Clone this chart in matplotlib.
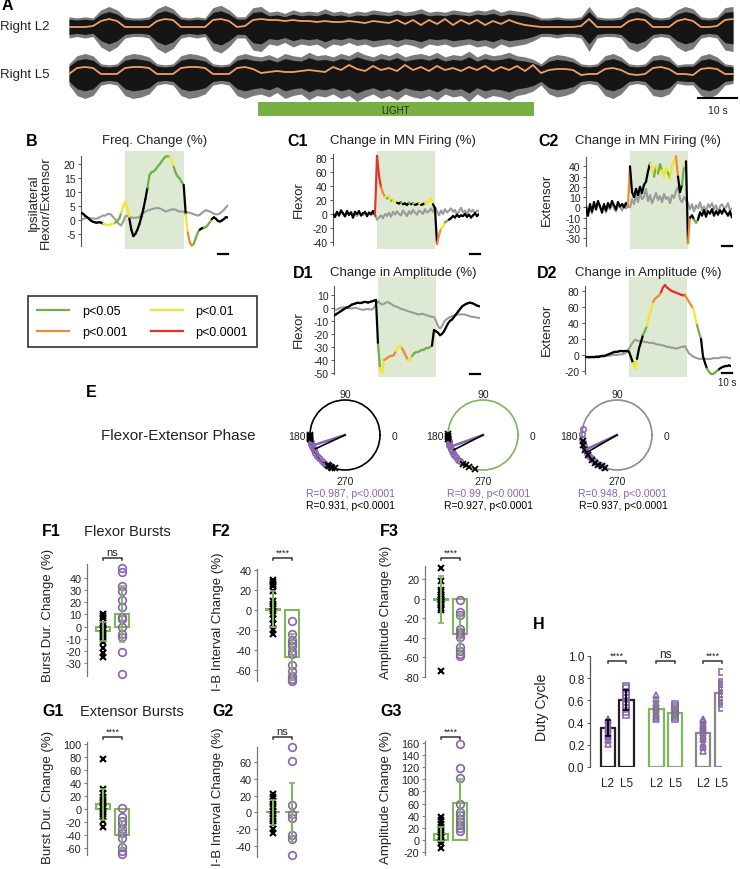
import numpy as np
import matplotlib
matplotlib.use('Agg')
import matplotlib.pyplot as plt
from matplotlib.collections import LineCollection
from matplotlib.lines import Line2D
from matplotlib.patches import Rectangle

plt.rcParams['font.family'] = ['Liberation Sans', 'DejaVu Sans']
plt.rcParams['axes.unicode_minus'] = False

# ---------------- data ----------------
# A: raw neurogram amplitude (2 s bins) and rectified envelope (orange)
a_time = np.arange(0, 168, 2)
l2_amp = [8, 7, 8, 7, 14, 17, 14, 8, 7, 7, 8, 15, 18, 15, 8, 7, 8, 7, 16, 18, 14, 8, 8, 16, 17,
          12, 13, 11, 14, 12, 13, 12, 15, 12, 13, 11, 13, 12, 14, 13, 12, 14, 12, 13, 15, 12, 13,
          12, 14, 13, 12, 14, 13, 15, 12, 14, 13, 12,
          10, 7, 7, 8, 7, 7, 8, 17, 8, 7, 7, 8, 15, 17, 14, 8, 7, 8, 14, 17, 15, 8, 7, 8, 16, 17]
l2_env = [-1, -1, -1, 0, 5, 7, 5, -1, -1, -1, -1, 5, 7, 6, -1, -1, -1, -1, 6, 7, 5, -1, 0, 6, 7,
          6, 6, 5, 6, 5, 5, 4, 5, 4, 4, 5, 4, 3, 5, 4, 3,
          6, 2, 6, 1, 6, 2, 7, 1, 6, 2, 6, 1, 5, 2, 6, 3, 1,
          0, -1, -1, -1, -1, -1, 0, 7, -1, -1, -1, -1, 5, 7, 6, -1, -1, -1, 5, 7, 5, -1, -1, 0, 6, 7]
l5_amp = [8, 15, 17, 15, 8, 7, 8, 15, 17, 16, 14, 8, 7, 8, 15, 17, 16, 14, 8, 7, 8, 15, 17, 15,
          14, 16, 13, 17, 15, 14, 18, 15, 16, 14, 17, 15, 19, 16, 14, 17, 15, 18, 14, 16, 17, 15,
          18, 14, 16, 15, 19, 14, 17, 15, 16, 18, 15, 14, 12,
          8, 14, 16, 15, 13, 8, 7, 8, 15, 17, 14, 8, 7, 8, 15, 16, 14, 7, 8, 8, 15, 17, 14, 8, 7]
l5_env = [-1, 5, 6, 5, -1, -1, -1, 5, 6, 6, 5, -1, -1, -1, 5, 6, 6, 5, -1, -1, -1, 5, 6, 4,
          0, 1, 2, 1, 1, 2, 3, 2, 1, 6, 3, 8, 4, 2, 7, 3, 5, 2, 8, 3, 6, 2, 7, 3, 5, 2, 6, 3, 7,
          2, 6, 3, 7, 2, 8,
          0, 3, 4, 4, 3, -2, -1, -1, 4, 5, 3, -1, -2, -1, 5, 6, 4, -1, -1, -2, 4, 5, 4, -1, -1]

# B-D: change (%) sampled every 2 s; codes 0=ns 1=p<0.05 2=p<0.01 3=p<0.001 4=p<0.0001
bd_time = np.arange(0, 148, 2)
light_on, light_off = 44, 102

b_black = [2.5, 2.2, 1.5, 1.0, 0.3, -0.3, -0.7, -0.9, -1.0, -0.8,
           -1.0, -1.4, -1.6, -1.7, -1.7, -1.6, -1.4, -1.0, -0.5, 0.5,
           2.5, 5.0, 6.5, 4.5, 0.5, -3.5, -5.8, -5.0, -3.5, -1.5,
           1.0, 4.0, 7.5, 11.5, 16.0, 17.0, 17.3, 18.0, 19.0, 19.8,
           20.8, 21.8, 22.6, 22.8, 22.4, 21.0, 19.0, 16.8, 15.5, 14.8,
           13.5, 12.5, 2.0, -4.5, -8.0, -9.2, -8.6, -6.5, -4.5, -3.5,
           -3.0, -2.8, -2.6, -1.8, -0.8, 0.3, 0.9, 0.4, -0.4, -0.6,
           -0.2, 0.3, 1.0, 0.8]
b_codes = [0] * 11 + [2] * 6 + [1] * 3 + [2] * 4 + [0] * 9 + [1] * 11 + [2] * 2 + [1] * 5 + \
          [0, 2] + [3] * 3 + [1] * 3 + [0] * 2 + [1] * 4 + [0] * 9
b_gray = [0.0, 0.3, 0.6, 0.8, 0.7, 0.6, 0.5, 0.4, 0.5, 0.8,
          1.2, 1.6, 1.5, 2.0, 2.2, 1.8, 1.0, 0.2, -0.8, -1.6,
          -2.0, -0.5, 1.3, 1.5, 1.0, 0.8, 0.7, 0.8, 0.9, 0.8,
          2.0, 2.5, 3.0, 3.3, 3.6, 3.8, 4.0, 4.2, 4.3, 4.1,
          3.8, 3.4, 3.0, 3.2, 3.5, 3.7, 3.8, 3.6, 3.2, 3.0,
          3.0, 2.9, 2.8, 2.7, 2.5, 2.3, 2.0, 1.8, 1.5, 1.8,
          2.5, 3.0, 3.5, 3.2, 3.0, 2.6, 2.2, 2.0, 2.0, 2.3,
          3.0, 3.6, 4.5, 5.2]

c1_black = [0, -4, 3, -2, 5, 1, -3, 4, -1, 2, -5, 3, 0, 4, -2, 1, 3, -3, 2, 0, 4, -2,
            83, 55, 38, 30, 24, 22, 25, 19, 20, 18, 16, 15, 17, 14, 15, 13, 16, 14, 15, 13,
            14, 15, 13, 14, 16, 15, 20, 23, 14, 8, -43, -30, -21, -18, -12, -10, -8,
            -6, -3, -5, -1, -4, -2, -3, 0, -4, -1, -5, -2, 1, -3, 0]
c1_codes = [0] * 21 + [4] + [4, 4, 3, 3, 2, 1, 2, 1, 2, 2, 0, 0, 1, 0, 0, 0, 1, 0, 1, 0, 0, 2, 0, 0,
                             2, 2, 2, 2, 0, 0, 3, 3, 2, 2, 1, 1, 0] + [0] * 15
c1_gray = [2, -3, 1, -2, 3, 0, -4, 2, -1, 3, -2, 1, -3, 2, 0, -2, 3, -1, 1, -2, 2, 0,
           -8, -5, -2, -6, 0, -3, 2, -4, 3, -1, 4, 0, -2, 5, 1, -3, 4, 0, 6, 2, -1, 5, 3, 0,
           7, 2, 4, 8, 3, 10, 4, -2, 5, 0, 7, 2, 5,
           8, 3, 6, -1, 4, 9, 2, 5, 0, 7, 3, 6, 1, 5, 4]

c2_black = [0, -8, 3, -4, 5, -2, 6, 1, -5, 3, -3, 4, 0, 6, 2, -2, 5, 1, 3, 0, 4, 2,
            40, 15, 10, 18, 12, 20, 14, 22, 25, 35, 43, 38, 30, 40, 33, 42, 36, 30, 38, 34,
            28, 40, 45, 50, 30, 15, 22, 40, 45,
            -35, -10, -8, -12, -15, -12, -5, -8, -3, -9, -4, -6, -2, -8, -4, -7, -3, -6, -2,
            -5, -8, -4, -10]
c2_codes = [0] * 21 + [3] + [0] * 10 + [2, 2, 1, 2, 1, 1, 2, 2, 2, 1, 2, 2, 2, 3, 0, 0, 1, 2, 0] + \
           [3, 0, 0, 1, 1] + [0] * 18
c2_gray = [2, -4, 0, -6, 3, -1, 5, 0, -3, 2, -5, 1, -2, 4, -1, -4, 2, 0, -3, 3, -1, 1,
           0, 8, 3, 12, 5, 15, 8, 10, 18, 6, 12, 4, 9, 14, 7, 11, 5, 13, 8, 10, 4, 12, 9, 16,
           20, 8, 5, 10, 7,
           4, -2, 3, -4, 2, -1, 5, -3, 1, -5, 3, 0, 4, -2, 2, -6, 1, 3, -1, 0, 4, -3, -1]

d1_black = [-6, -5, -4, -3, -2, -1, 0, 0.5, 1.5, 2.5,
            3, 3.5, 4, 4, 4, 4.5, 4.5, 4, 4.5, 5,
            5.5, 6, -28, -46, -50, -40, -39, -38, -37, -37,
            -36, -33, -30, -29, -31, -34, -37, -40, -40, -37,
            -35, -34, -34, -33, -32, -32, -31, -31, -30, -29,
            -17, -18, -19, -21, -20, -18, -15, -12, -10, -9,
            -7, -5, -3, -1, 1, 2, 3, 3.5, 4, 3.5,
            3, 2, 1.5, 1]
d1_codes = [0] * 22 + [1, 2, 2, 3, 3, 3, 3, 3, 3, 2, 2, 2, 3, 3, 3, 2, 2, 1, 1, 1, 1, 1, 1, 1,
                       1, 1, 1, 0] + [0] * 24
d1_gray = [-1, -1.5, -1, 0, 0, 0.5, 0, 0, -0.5, -0.5,
           0, 0, -0.5, -1, -1.5, -1.5, -1, -1, -1.2, -1.3,
           0, 3, 5, 3.5, 2.5, 3, 4, 4.5, 3.5, 2.5,
           1.5, 1, 0.5, -0.5, -1, -1.5, -2, -2.5, -3, -3.5,
           -4, -4.5, -5, -5, -4.5, -5, -5.5, -6, -6.5, -7,
           -7, -10, -14, -16, -14, -11, -9, -8, -7, -6.5,
           -6, -5.5, -5, -5, -5, -5, -5.5, -6, -6.5, -7,
           -7, -7.5, -7.5, -8]

d2_black = [-3, -3, -3, -2.5, -2.5, -2.5, -2, -2, -1.5, -1,
            -1, 0, 1, 2, 3, 4, 4, 4.5, 5, 4.5,
            5, 5, 4, -3, -10, -17, -5, 8, 16, 25,
            30, 36, 49, 55, 66, 70, 72, 74, 78, 84,
            87, 84, 82, 80, 79, 78, 77, 76, 75, 74,
            74, 70, 66, 62, 58, 48, 37, 28, 20, -2,
            -10, -17, -21, -24, -24, -22, -20, -18, -16, -15,
            -14, -14, -13, -14]
d2_codes = [0] * 23 + [0, 2, 2, 0, 0, 0, 1, 1, 2, 2, 2, 3, 3, 3, 3, 4] + [4] * 11 + \
           [3, 3, 3, 3, 2, 2, 1, 1] + [0] * 3 + [1] * 6 + [0] * 7
d2_gray = [-3, -3, -3, -3, -3, -3, -2.5, -2, -2, -2,
           -1.5, -1, -1, -0.5, 0, 0, 0, 0.5, 0.5, 1,
           2, 4, 8, 12, 16, 19, 18, 17, 17, 17,
           16, 16, 15, 15, 15, 14, 13, 13, 12, 12,
           11, 10, 10, 9, 9, 8, 8, 9, 10, 10,
           11, 6, 2, 0, -2, -3, -4, -5, -5, -5,
           -5, -5, -5, -5, -4, -4, -4, -4, -3, -3,
           -3, -3, -4, -4]

# E: flexor-extensor phase (deg), mean vector angle/length
e_ctrl = [[180, 181, 183, 185, 187, 240, 243, 246, 249, 253],
          [179, 181, 183, 186, 236, 240, 246, 256],
          [190, 196, 205, 215, 225, 232, 238, 244, 250]]
e_light = [[186, 189, 192, 195, 198, 202, 206, 211, 216, 222, 228, 233, 238],
           [184, 187, 190, 193, 196, 199, 203, 207, 211, 215, 220, 225, 229],
           [170, 178, 186, 192, 198, 204, 210, 216, 222, 228, 234, 240, 246]]
e_vec_light = [(198, 0.987), (200, 0.99), (205, 0.948)]
e_vec_ctrl = [(205, 0.931), (207, 0.927), (210, 0.937)]
e_text_light = ['R=0.987, p<0.0001', 'R=0.99, p<0.0001', 'R=0.948, p<0.0001']
e_text_ctrl = ['R=0.931, p<0.0001', 'R=0.927, p<0.0001', 'R=0.937, p<0.0001']
e_ring = ['black', '#7cb55a', '#8c8c8c']

# F/G: per-animal change (%), control (x) vs light (o), bar = mean, whisker = SD
f1_ctrl = [10, 9, 7, 3, 1, -1, -3, -5, -8, -10, -13, -18, -22, -25]
f1_light = [48, 45, 33, 29, 22, 16, 8, 6, 0, -6, -9, -21, -39]
f2_ctrl = [30, 28, 26, 24, 19, 9, 6, 3, -1, -4, -9, -14, -20, -24]
f2_light = [-11, -24, -30, -33, -36, -41, -44, -55, -61, -66, -69, -71]
f3_ctrl = [31, 18, 9, 7, 4, 2, 0, -1, -3, -5, -7, -10, -12, -74]
f3_light = [-1, -14, -17, -31, -34, -36, -39, -49, -53, -57, -59]
g1_ctrl = [77, 31, 25, 19, 14, 9, 5, 1, -3, -8, -13, -18, -27]
g1_light = [2, -13, -18, -23, -31, -37, -44, -59, -64, -69]
g2_ctrl = [22, 18, 14, 10, 6, 2, -2, -6, -10, -14, -20, -24]
g2_light = [78, 61, 9, -2, -6, -27, -32, -51]
g3_ctrl = [38, 33, 27, 22, 16, 11, 5, 0, -5, -13]
g3_light = [158, 119, 102, 60, 46, 41, 35, 30, 25, 19, 14]
fg_means = {'F1': (-4, 10), 'F2': (1, -47), 'F3': (-1, -36),
            'G1': (7, -40), 'G2': (0, 0), 'G3': (10, 61)}
fg_sds = {'F1': (8, 23), 'F2': (18, 23), 'F3': (24, 20),
          'G1': (24, 22), 'G2': (15, 35), 'G3': (12, 40)}
fg_sig = {'F1': 'ns', 'F2': '****', 'F3': '****', 'G1': '****', 'G2': 'ns', 'G3': '****'}

# H: duty cycle
h_labels = ['L2', 'L5', 'L2', 'L5', 'L2', 'L5']
h_means = [0.35, 0.60, 0.52, 0.49, 0.31, 0.67]
h_sds = [0.07, 0.09, 0.06, 0.05, 0.08, 0.10]
h_points = [[0.43, 0.41, 0.39, 0.37, 0.35, 0.33, 0.31, 0.29, 0.27, 0.24, 0.21],
            [0.73, 0.71, 0.68, 0.65, 0.62, 0.59, 0.56, 0.53, 0.50, 0.47],
            [0.65, 0.61, 0.58, 0.55, 0.53, 0.51, 0.49, 0.47, 0.45, 0.43],
            [0.57, 0.55, 0.53, 0.51, 0.49, 0.47, 0.45, 0.43],
            [0.43, 0.41, 0.39, 0.37, 0.35, 0.33, 0.31, 0.28, 0.25, 0.21, 0.18, 0.14],
            [0.86, 0.77, 0.75, 0.72, 0.69, 0.66, 0.63, 0.60, 0.57, 0.53]]
h_sig = ['****', 'ns', '****']

# ---------------- style ----------------
GREEN = '#6db248'
YELLOW = '#f3e62b'
ORANGE = '#f08a35'
RED = '#e2332b'
SIG_COLORS = ['black', GREEN, YELLOW, ORANGE, RED]
GRAY = '#9b9b9b'
PURPLE = '#8a62b2'
SHADE = '#dde9d2'
BOXGREEN = '#7fb75c'
TXT = '#222222'

fig = plt.figure(figsize=(7.4, 8.7), dpi=100)


def rect(x0, y0, x1, y1):
    return [x0 / 740, 1 - y1 / 870, (x1 - x0) / 740, (y1 - y0) / 870]


def put(x, y, s, size=9, **kw):
    kw.setdefault('color', TXT)
    fig.text(x / 740, 1 - y / 870, s, fontsize=size, **kw)


def letter(x, y, s):
    put(x, y, s, 11.5, weight='bold', ha='left', va='center', color='black')


# ---------------- A ----------------
axA = fig.add_axes(rect(69, 0, 738, 125))
axA.set_xlim(0, 167.25)
axA.set_ylim(125, 0)
axA.axis('off')
for mid, amp, env in ((27, l2_amp, l2_env), (74, l5_amp, l5_env)):
    amp = np.asarray(amp, float)
    axA.fill_between(a_time, mid - 1.15 * amp, mid + 1.5 * amp, color='#7a7a7a', lw=0)
    axA.fill_between(a_time, mid - 0.85 * amp, mid + 1.05 * amp, color='#151515', lw=0)
    axA.plot(a_time, mid - np.asarray(env), color='#f2a062', lw=1.3)
axA.add_patch(Rectangle((47.25, 103), 69, 14, color='#79b043', lw=0))
axA.text(81.75, 110.5, 'LIGHT', fontsize=7, ha='center', va='center', color='#1d3310')
axA.plot([157.25, 167.25], [99, 99], color='black', lw=1.5)
axA.text(162.25, 111, '10 s', fontsize=7.5, ha='center', va='center', color=TXT)
letter(2, 6, 'A')
put(0, 27, 'Right L2', 9.5, va='center')
put(0, 75, 'Right L5', 9.5, va='center')


# ---------------- B, C, D ----------------
def trace_axes(px, ylim, spine, ticks):
    ax = fig.add_axes(rect(*px))
    ax.set_xlim(0, 146)
    ax.set_ylim(*ylim)
    ax.patch.set_alpha(0)
    for s in ('top', 'right', 'bottom'):
        ax.spines[s].set_visible(False)
    ax.spines['left'].set_bounds(*spine)
    ax.spines['left'].set_color('#555555')
    ax.spines['left'].set_linewidth(0.8)
    ax.set_xticks([])
    ax.set_yticks(ticks)
    ax.tick_params(axis='y', length=2.5, width=0.7, labelsize=7.5, pad=1.5,
                   color='#555555', labelcolor=TXT)
    ax.axvspan(light_on, light_off, color=SHADE, lw=0, zorder=0)
    return ax


def sig_line(ax, y, codes):
    pts = np.column_stack([bd_time, y])
    segs = np.stack([pts[:-1], pts[1:]], axis=1)
    cols = [SIG_COLORS[c] for c in codes[:-1]]
    ax.add_collection(LineCollection(segs, colors=cols, linewidths=1.6,
                                     capstyle='round', joinstyle='round', zorder=3))


def scale_bar(ax, t0, y_frac):
    ax.plot([t0, t0 + 10], [y_frac, y_frac], color='black', lw=1.6,
            transform=ax.get_xaxis_transform(), clip_on=False)


panels = [
    # px box, ylim, spine, ticks, black, codes, gray, bar t0, bar frac
    ((81, 152, 228, 250), (-10.4, 24.6), (-9.3, 22.9), [-5, 0, 5, 10, 15, 20],
     b_black, b_codes, b_gray, 136, -0.05),
    ((333, 152, 479, 250), (-50, 90), (-44, 86), [-40, -20, 0, 20, 40, 60, 80],
     c1_black, c1_codes, c1_gray, 137, -0.05),
    ((586, 152, 732, 250), (-40.7, 55), (-37.8, 49), [-30, -20, -10, 0, 10, 20, 30, 40],
     c2_black, c2_codes, c2_gray, 136, 0.03),
    ((334, 278, 480, 378), (-53, 23.6), (-50.8, 16.6), [-50, -40, -30, -20, -10, 0, 10],
     d1_black, d1_codes, d1_gray, 136, 0.03),
    ((585, 278, 731, 378), (-27.5, 97), (-23.8, 86), [-20, 0, 20, 40, 60, 80],
     d2_black, d2_codes, d2_gray, 137, 0.04),
]
for px, ylim, spine, ticks, blk, codes, gry, t0, frac in panels:
    ax = trace_axes(px, ylim, spine, ticks)
    ax.plot(bd_time, gry, color=GRAY, lw=1.5, zorder=2)
    sig_line(ax, blk, codes)
    scale_bar(ax, t0, frac)
    last_ax = ax
last_ax.text(142, -0.05, '10 s', fontsize=7, ha='center', va='center', color=TXT,
             transform=last_ax.get_xaxis_transform())

letter(26, 141, 'B')
put(155, 141, 'Freq. Change (%)', 9.5, ha='center', va='center')
put(40, 203, 'Ipsilateral\nFlexor/Extensor', 9.5, rotation=90, ha='center', va='center',
    linespacing=1.0)
letter(287, 141, 'C1')
put(330, 141, 'Change in MN Firing (%)', 9.5, ha='left', va='center')
put(299, 200, 'Flexor', 9.5, rotation=90, ha='center', va='center')
letter(538, 141, 'C2')
put(575, 141, 'Change in MN Firing (%)', 9.5, ha='left', va='center')
put(547, 200, 'Extensor', 9.5, rotation=90, ha='center', va='center')
letter(293, 273, 'D1')
put(330, 273, 'Change in Amplitude (%)', 9.5, ha='left', va='center')
put(299, 330, 'Flexor', 9.5, rotation=90, ha='center', va='center')
letter(537, 273, 'D2')
put(575, 273, 'Change in Amplitude (%)', 9.5, ha='left', va='center')
put(547, 330, 'Extensor', 9.5, rotation=90, ha='center', va='center')

# significance legend
handles = [Line2D([], [], color=GREEN, lw=1.6), Line2D([], [], color=ORANGE, lw=1.6),
           Line2D([], [], color=YELLOW, lw=1.6), Line2D([], [], color=RED, lw=1.6)]
fig.legend(handles, ['p<0.05', 'p<0.001', 'p<0.01', 'p<0.0001'], ncol=2,
           loc='center', bbox_to_anchor=rect(28, 298, 257, 347), mode='expand',
           frameon=True, fancybox=False, edgecolor='black', fontsize=9,
           handlelength=2.6, handletextpad=1.0, columnspacing=2.5, borderpad=0.7,
           labelspacing=0.7, borderaxespad=0)
fig.legends[0].get_frame().set_linewidth(1.2)

# ---------------- E ----------------
letter(86, 393, 'E')
put(178, 436, 'Flexor-Extensor Phase', 11, ha='center', va='center')
for i, cx in enumerate((345, 483, 617)):
    axp = fig.add_axes(rect(cx - 35, 401, cx + 35, 471), projection='polar')
    axp.set_xticks([])
    axp.set_yticks([])
    axp.grid(False)
    axp.set_ylim(0, 1)
    axp.spines['polar'].set_color(e_ring[i])
    axp.spines['polar'].set_linewidth(1.2)
    axp.plot(np.deg2rad(e_light[i]), np.ones(len(e_light[i])), 'o', ms=4, mfc='none',
             mec=PURPLE, mew=1.1, clip_on=False, zorder=3)
    axp.plot(np.deg2rad(e_ctrl[i]), np.ones(len(e_ctrl[i])), 'x', ms=4, color='black',
             mew=1.3, clip_on=False, zorder=4)
    ang, r = e_vec_light[i]
    axp.plot([0, np.deg2rad(ang)], [0, r], color=PURPLE, lw=1.8, zorder=5)
    ang, r = e_vec_ctrl[i]
    axp.plot([0, np.deg2rad(ang)], [0, r], color='black', lw=1.2, zorder=5)
    put(cx, 395, '90', 7.5, ha='center', va='center')
    put(cx, 482, '270', 7.5, ha='center', va='center')
    put(cx - 48, 437, '180', 7.5, ha='center', va='center')
    put(cx + 49, 437, '0', 7.5, ha='center', va='center')
    put(cx + 6, 494, e_text_light[i], 7.5, ha='center', va='center', color=PURPLE)
    put(cx + 6, 506, e_text_ctrl[i], 7.5, ha='center', va='center', color='black')

# ---------------- F, G ----------------
fg_panels = [
    # name, ctrl, light, spine x, top, bottom, ylim, ticks, ylabel, label xy
    ('F1', f1_ctrl, f1_light, 87, 565, 677, (-40.7, 51.5), range(-30, 41, 10),
     'Burst Dur. Change (%)', 615),
    ('F2', f2_ctrl, f2_light, 257, 570, 682, (-71, 41), range(-60, 41, 20),
     'I-B Interval Change (%)', 622),
    ('F3', f3_ctrl, f3_light, 425, 567, 678, (-80, 33.3), range(-80, 21, 20),
     'Amplitude Change (%)', 612),
    ('G1', g1_ctrl, g1_light, 87, 743, 856, (-70.8, 103), range(-60, 101, 20),
     'Burst Dur. Change (%)', 797),
    ('G2', g2_ctrl, g2_light, 257, 748, 858, (-53, 78), range(-40, 61, 20),
     'I-B Interval Change (%)', 797),
    ('G3', g3_ctrl, g3_light, 425, 742, 856, (-25, 163.3), range(-20, 161, 20),
     'Amplitude Change (%)', 797),
]
for name, ctrl, light, xs, top, bot, ylim, ticks, ylab, ylab_y in fg_panels:
    ax = fig.add_axes(rect(xs, top, xs + 50, bot))
    left = 1 - 16 / 19
    ax.set_xlim(left, left + 50 / 19)
    ax.set_ylim(*ylim)
    ax.patch.set_alpha(0)
    for s in ('top', 'right', 'bottom'):
        ax.spines[s].set_visible(False)
    ax.spines['left'].set_color('#777777')
    ax.spines['left'].set_linewidth(0.9)
    ax.set_xticks([])
    ax.set_yticks(list(ticks))
    ax.tick_params(axis='y', length=2.5, width=0.7, labelsize=7.8, pad=1.5,
                   color='#777777', labelcolor=TXT)
    means, sds = fg_means[name], fg_sds[name]
    ax.bar([1, 2], means, width=0.74, facecolor='none', edgecolor=BOXGREEN, lw=1.5, zorder=2)
    ax.plot([1] * len(ctrl), ctrl, 'x', ms=5, color='black', mew=1.5, clip_on=False, zorder=3)
    ax.plot([2] * len(light), light, 'o', ms=5.5, mfc='none', mec=PURPLE, mew=1.2,
            clip_on=False, zorder=3)
    ax.errorbar([1, 2], means, yerr=sds, fmt='none', ecolor=BOXGREEN, elinewidth=1.5,
                capsize=2.5, capthick=1.2, zorder=4)
    # significance bracket
    yb = (bot - (559 if name[0] == 'F' else 738)) / (bot - top)
    tr = ax.get_xaxis_transform()
    ax.plot([1, 1, 2, 2], [yb - 0.02, yb, yb, yb - 0.02], color='#333333', lw=1.1,
            transform=tr, clip_on=False)
    sig = fg_sig[name]
    ax.text(1.5, yb + 0.01, sig, fontsize=8 if sig == 'ns' else 6.5, ha='center',
            va='bottom', transform=tr, color=TXT)
    letter(xs - 45, 532 if name[0] == 'F' else 712, name)
    put(xs - 39, ylab_y, ylab, 9.5, rotation=90, ha='center', va='center')
put(84, 532, 'Flexor Bursts', 10.5, ha='left', va='center')
put(80, 712, 'Extensor Bursts', 10.5, ha='left', va='center')

# ---------------- H ----------------
h_pos = [0, 1, 2.6, 3.6, 5.1, 6.1]
h_edge = ['#222222', '#222222', BOXGREEN, BOXGREEN, '#888888', '#888888']
h_err = ['black', 'black', '#6f9560', '#6f9560', '#7a7a7a', '#7a7a7a']
axH = fig.add_axes(rect(590, 657, 722, 768))
axH.set_xlim(-16 / 17, 116 / 17 - 16 / 17)
axH.set_ylim(0, 1)
axH.patch.set_alpha(0)
for s in ('top', 'right', 'bottom'):
    axH.spines[s].set_visible(False)
axH.spines['left'].set_color('#555555')
axH.spines['left'].set_linewidth(0.9)
axH.bar(h_pos, h_means, width=0.76, facecolor='white', edgecolor=h_edge, lw=1.6, zorder=1)
for i, pts in enumerate(h_points):
    axH.plot([h_pos[i]] * len(pts), pts, '^' if i % 2 == 0 else 's', ms=4.5, mfc='none',
             mec=PURPLE, mew=1.1, zorder=3)
    axH.errorbar(h_pos[i], h_means[i], yerr=h_sds[i], fmt='none', ecolor=h_err[i],
                 elinewidth=1.4, capsize=2.5, capthick=1.2, zorder=4)
for k, sig in enumerate(h_sig):
    x0, x1 = h_pos[2 * k], h_pos[2 * k + 1]
    axH.plot([x0, x0, x1, x1], [0.94, 0.955, 0.955, 0.94], color='#333333', lw=1.1,
             clip_on=False)
    axH.text((x0 + x1) / 2, 0.965, sig, fontsize=8.5 if sig == 'ns' else 6.5,
             ha='center', va='bottom', color=TXT)
axH.set_xticks(h_pos)
axH.set_xticklabels(h_labels)
axH.set_yticks([0, 0.2, 0.4, 0.6, 0.8, 1.0])
axH.set_yticklabels(['0.0', '0.2', '0.4', '0.6', '0.8', '1.0'])
axH.tick_params(axis='x', length=0, labelsize=8.5, pad=7, labelcolor=TXT)
axH.tick_params(axis='y', length=2.5, width=0.7, labelsize=8.5, pad=1.5,
                color='#555555', labelcolor=TXT)
letter(533, 625, 'H')
put(542, 707, 'Duty Cycle', 10, rotation=90, ha='center', va='center')

fig.savefig('out.png', dpi=100, facecolor='white')
